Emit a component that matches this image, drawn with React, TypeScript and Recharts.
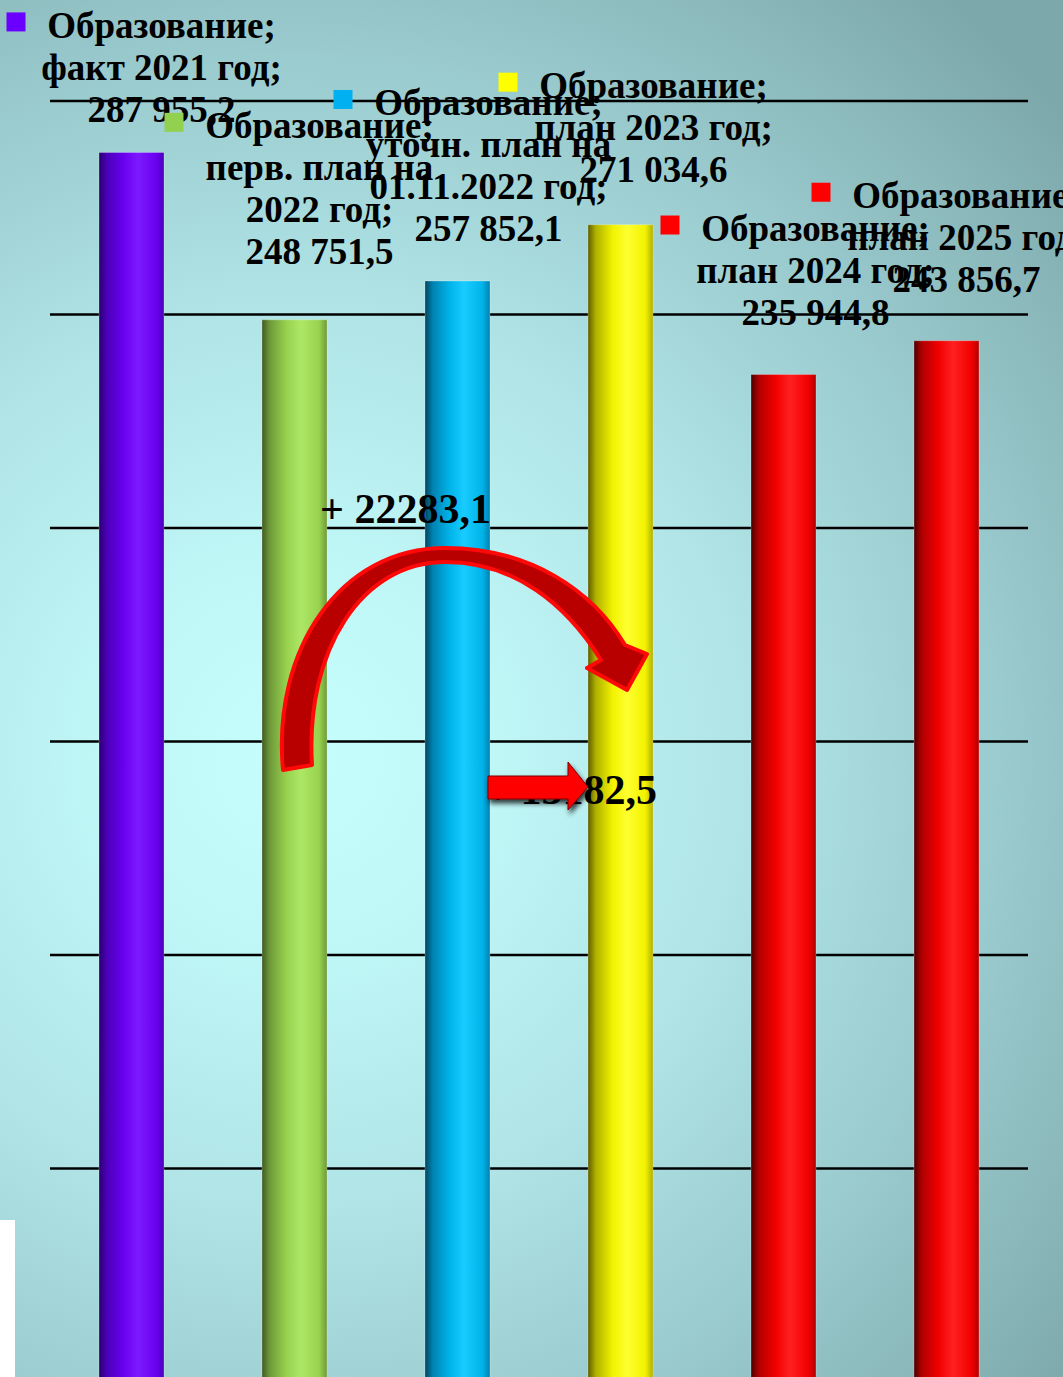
import React from "react";
import { BarChart, Bar, XAxis, YAxis, CartesianGrid, Cell, LabelList } from "recharts";

const seriesName = "Образование";
const categoryLines = [
  ["факт 2021 год;"],
  ["перв. план на", "2022 год;"],
  ["уточн. план на", "01.11.2022 год;"],
  ["план 2023 год;"],
  ["план 2024 год;"],
  ["план 2025 год;"],
];
const values = [287955.2, 248751.5, 257852.1, 271034.6, 235944.8, 243856.7];
const yTicks = [0, 50000, 100000, 150000, 200000, 250000, 300000];

// label placement relative to the bar (centre x, top y)
const labelOffsets = [
  { dx: 30, dy: -127 },
  { dx: 25, dy: -194 },
  { dx: 31, dy: -178 },
  { dx: 33, dy: -139 },
  { dx: 32, dy: -146 },
  { dx: 20, dy: -145 },
];

// cylinder-ish shading: dark, mid, base, highlight
const barShades = [
  ["#2b0070", "#4a00b8", "#6a00f0", "#7c1aff"],
  ["#3f5a22", "#6e9a3a", "#98d24e", "#ace866"],
  ["#004660", "#0082b0", "#00b4ea", "#18ccff"],
  ["#5e5e00", "#b0b000", "#f2f200", "#ffff30"],
  ["#4a0000", "#b00000", "#f20000", "#ff2020"],
  ["#4a0000", "#b00000", "#f20000", "#ff2020"],
];
const keyColors = ["#6a00ff", "#92d050", "#00b0f0", "#ffff00", "#ff0000", "#ff0000"];

const FONT = "'Liberation Serif', 'Times New Roman', serif";

const formatValue = (v: number) => {
  const [int, dec] = v.toFixed(1).split(".");
  return int.replace(/\B(?=(\d{3})+(?!\d))/g, " ") + "," + dec;
};
const formatDiff = (v: number) => "+ " + v.toFixed(1).replace(".", ",");

const data = values.map((value, i) => ({ name: categoryLines[i].join(" "), value }));

const renderLabel = (props: any) => {
  const { x, y, width, index } = props;
  const off = labelOffsets[index];
  const cx = x + width / 2 + off.dx;
  const cy = y + off.dy;
  const lines = [seriesName + ";", ...categoryLines[index], formatValue(values[index])];
  return (
    <g key={`lbl-${index}`}>
      <rect x={cx - 155} y={cy - 13} width={19} height={19} fill={keyColors[index]} />
      {lines.map((t, k) => (
        <text
          key={k}
          x={cx}
          y={cy + k * 42}
          textAnchor="middle"
          dominantBaseline="central"
          fontFamily={FONT}
          fontWeight="bold"
          fontSize={37}
          fill="#000"
        >
          {t}
        </text>
      ))}
    </g>
  );
};

export default function App() {
  return (
    <div
      style={{
        position: "absolute",
        left: 0,
        top: 0,
        width: 1063,
        height: 1377,
        overflow: "hidden",
        background:
          "radial-gradient(circle at 28% 55%, #c6fefe 0px, #bff6f6 200px, #b0e4e6 450px, #9acbce 700px, #7da8ab 1000px)",
      }}
    >
      <BarChart
        width={1063}
        height={1390}
        data={data}
        margin={{ top: 101, right: 35, left: 50, bottom: 8 }}
      >
        <defs>
          {barShades.map((c, i) => (
            <linearGradient key={i} id={`bar${i}`} x1="0" y1="0" x2="1" y2="0">
              <stop offset="0%" stopColor={c[0]} />
              <stop offset="12%" stopColor={c[1]} />
              <stop offset="38%" stopColor={c[2]} />
              <stop offset="60%" stopColor={c[3]} />
              <stop offset="88%" stopColor={c[2]} />
              <stop offset="100%" stopColor={c[1]} />
            </linearGradient>
          ))}
        </defs>
        <CartesianGrid
          vertical={false}
          stroke="#000"
          strokeWidth={2.5}
          horizontalValues={yTicks}
        />
        <XAxis dataKey="name" hide />
        <YAxis hide domain={[0, 300000]} ticks={yTicks} />
        <Bar dataKey="value" barSize={65} isAnimationActive={false}>
          {data.map((_, i) => (
            <Cell key={i} fill={`url(#bar${i})`} stroke="rgba(255,255,255,0.25)" strokeWidth={1} />
          ))}
          <LabelList dataKey="value" content={renderLabel} />
        </Bar>
      </BarChart>

      {/* annotations: growth arrows */}
      <svg
        width={1063}
        height={1377}
        style={{ position: "absolute", left: 0, top: 0, pointerEvents: "none" }}
      >
        <defs>
          <filter id="shadow" x="-20%" y="-50%" width="140%" height="200%">
            <feDropShadow dx="2" dy="4" stdDeviation="2.5" floodColor="#000" floodOpacity="0.75" />
          </filter>
        </defs>
        <rect x={0} y={1220} width={15} height={157} fill="#fff" />
        <text
          x={320}
          y={509}
          dominantBaseline="central"
          fontFamily={FONT}
          fontWeight="bold"
          fontSize={42}
          fill="#000"
        >
          {formatDiff(values[3] - values[1])}
        </text>
        <path
          d="M 283 770 C 272 650 340 548 445 548 C 530 548 592 590 625 645 L 647 654 L 627 690 L 587 668 L 601 660 C 566 604 515 562 445 562 C 362 562 305 650 312 765 Z"
          fill="#b80000"
          stroke="#ff0808"
          strokeWidth={4}
          strokeLinejoin="round"
        />
        <text
          x={486}
          y={790}
          dominantBaseline="central"
          fontFamily={FONT}
          fontWeight="bold"
          fontSize={42}
          fill="#000"
        >
          {formatDiff(values[3] - values[2])}
        </text>
        <path
          d="M 488 776 L 568 776 L 568 762 L 588 787 L 568 810 L 568 799 L 488 799 Z"
          fill="#ff0000"
          stroke="#7a0000"
          strokeWidth={1}
          filter="url(#shadow)"
        />
      </svg>
    </div>
  );
}
